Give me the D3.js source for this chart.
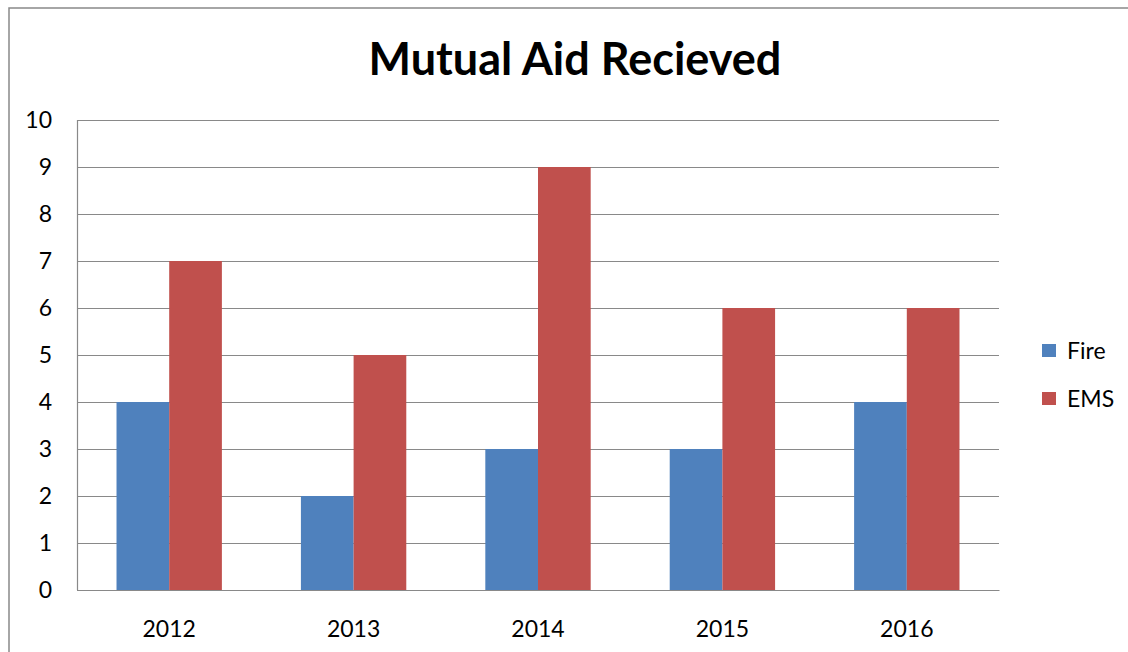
<!DOCTYPE html>
<html><head><meta charset="utf-8">
<script src="https://cdn.jsdelivr.net/npm/d3@7"></script>
<style>body{margin:0;background:#fff}svg{display:block}</style>
</head><body>
<script>
const categories = ["2012","2013","2014","2015","2016"];
const fireValues = [4,2,3,3,4];
const emsValues = [7,5,9,6,6];
const seriesNames = ["Fire","EMS"];
const yTicks = [0,1,2,3,4,5,6,7,8,9,10];
const colors = ["#4F81BD","#C0504D"];
const font = "Lato, 'Open Sans', sans-serif";

const W=1128,H=652;
const svg=d3.select("body").append("svg").attr("width",W).attr("height",H);
svg.append("rect").attr("x",9).attr("y",8).attr("width",1140).attr("height",660)
  .attr("fill","#fff").attr("stroke","#898989").attr("stroke-width",1.5);

const L=77,R=999,T=120,B=590;
const x=d3.scaleBand().domain(categories).range([L,R]).paddingInner(1.5/3.5).paddingOuter(0.75/3.5);
const xs=d3.scaleBand().domain(seriesNames).range([0,x.bandwidth()]);
const y=d3.scaleLinear().domain([0,10]).range([B,T]);

// gridlines
svg.append("g").selectAll("line").data(yTicks).join("line")
  .attr("x1",L).attr("x2",R).attr("y1",d=>Math.round(y(d))+0.5).attr("y2",d=>Math.round(y(d))+0.5)
  .attr("stroke","#898989").attr("stroke-width",1.2);

const data=categories.map((c,i)=>({c,vals:[fireValues[i],emsValues[i]]}));
svg.append("g").selectAll("g").data(data).join("g")
  .attr("transform",d=>`translate(${x(d.c)},0)`)
  .selectAll("rect").data(d=>d.vals.map((v,j)=>({v,s:seriesNames[j],j}))).join("rect")
  .attr("x",d=>xs(d.s)).attr("width",xs.bandwidth())
  .attr("y",d=>y(d.v)).attr("height",d=>y(0)-y(d.v)).attr("fill",d=>colors[d.j]);

// axis lines
svg.append("line").attr("x1",L+0.5).attr("x2",L+0.5).attr("y1",T).attr("y2",B).attr("stroke","#898989").attr("stroke-width",1.2);

// y axis
const ya=svg.append("g").attr("transform",`translate(${L},0)`).call(d3.axisLeft(y).tickValues(yTicks).tickSize(0).tickPadding(25));
ya.select(".domain").remove();
ya.selectAll("text").attr("font-family",font).attr("font-size",23).attr("fill","#000");

const xa=svg.append("g").attr("transform",`translate(0,${B})`).call(d3.axisBottom(x).tickSize(0).tickPadding(31));
xa.select(".domain").attr("stroke","#898989").attr("stroke-width",1.2);
xa.selectAll("text").attr("font-family",font).attr("font-size",23).attr("fill","#000");

svg.append("text").attr("x",575).attr("y",75).attr("text-anchor","middle")
  .attr("font-family",font).attr("font-weight","bold").attr("font-size",45).text("Mutual Aid Recieved");

const lg=svg.append("g").selectAll("g").data(seriesNames).join("g")
  .attr("transform",(d,i)=>`translate(1042,${344+i*48})`);
lg.append("rect").attr("width",14).attr("height",13).attr("fill",(d,i)=>colors[i]);
lg.append("text").attr("x",25).attr("y",7).attr("dy","0.35em").attr("font-family",font).attr("font-size",23).text(d=>d);
</script>
</body></html>
